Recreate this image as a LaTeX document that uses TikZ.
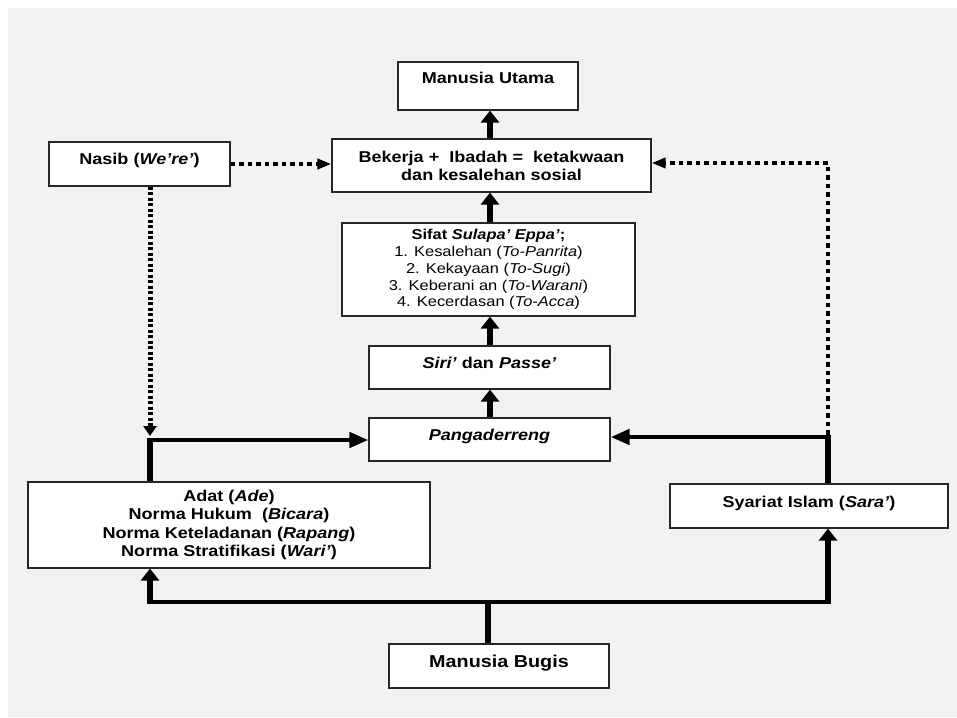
\documentclass[tikz,border=0pt]{standalone}
\usepackage{fontspec}
\setmainfont[FakeStretch=1.15]{Liberation Sans}
\usetikzlibrary{arrows.meta}
\definecolor{bg}{HTML}{F2F2F2}
\begin{document}
\begin{tikzpicture}[x=1pt,y=-1pt,
  box/.style={draw=black!85, line width=1.2pt, fill=white, inner sep=0pt, align=center},
  fbig/.style={font=\fontsize{15.7}{18}\selectfont\bfseries},
  one/.style={text height=11.5pt, text depth=#1},
  vthick/.style={line width=6pt},
  hthick/.style={line width=4.5pt},
  vtip/.style={-{Triangle[width=18pt,length=12pt]}},
  htip/.style={-{Triangle[width=15pt,length=19pt]}},
  vdot/.style={line width=5pt, dash pattern=on 3pt off 2.5pt},
  hdot/.style={line width=4pt, dash pattern=on 4.5pt off 4pt},
  dtipv/.style={-{Triangle[width=13pt,length=10pt]}},
  dtiph/.style={-{Triangle[width=10pt,length=14pt]}}]
\useasboundingbox (0,0) rectangle (957,717);
\fill[bg] (8,8) rectangle (957,717);

\node[box, fbig, one=16.3pt, minimum width=180pt, minimum height=48pt] (mu) at (488,86) {Manusia Utama};
\node[box, fbig, minimum width=319pt, minimum height=53pt] (bek) at (491.5,165.5) {Bekerja +~ Ibadah =~ ketakwaan\\dan kesalehan sosial};
\node[box, font=\fontsize{14.3}{16.8}\selectfont, minimum width=293pt, minimum height=93pt] (sifat) at (488.5,269.5)
  {\textbf{Sifat \textit{Sulapa' Eppa'};}\\1. Kesalehan (\textit{To-Panrita})\\2. Kekayaan (\textit{To-Sugi})\\3. Keberani an (\textit{To-Warani})\\4. Kecerdasan (\textit{To-Acca})};
\node[box, fbig, one=10.3pt, minimum width=241pt, minimum height=43pt] (siri) at (489.5,367.5) {\textit{Siri'} dan \textit{Passe'}};
\node[box, fbig, one=9.9pt, minimum width=241pt, minimum height=43pt] (pang) at (489.5,439.5) {\textit{Pangaderreng}};
\node[box, fbig, one=9.9pt, minimum width=181pt, minimum height=44pt] (nasib) at (139.5,164) {Nasib (\textit{We're'})};
\node[box, font=\fontsize{15.7}{18.3}\selectfont\bfseries, minimum width=402pt, minimum height=86pt] (adat) at (229,525)
  {Adat (\textit{Ade})\\Norma Hukum~ (\textit{Bicara})\\Norma Keteladanan (\textit{Rapang})\\Norma Stratifikasi (\textit{Wari'})};
\node[box, fbig, one=8.9pt, minimum width=278pt, minimum height=44pt] (sya) at (809,506) {Syariat Islam (\textit{Sara'})};
\node[box, font=\fontsize{17.2}{19}\selectfont\bfseries, text height=12.5pt, text depth=8.8pt, minimum width=220pt, minimum height=44pt] (bugis) at (499,666) {Manusia Bugis};

\coordinate (cx) at (490,0);
\coordinate (jl) at (150,440);
\coordinate (jr) at (828,437);
\coordinate (dr) at (828,163);
\coordinate (bl) at (150,602);
\coordinate (br) at (828,602);
\coordinate (bm) at (488,602);

\draw[vthick,vtip] (bek.north -| cx) -- (mu.south -| cx);
\draw[vthick,vtip] (sifat.north -| cx) -- (bek.south -| cx);
\draw[vthick,vtip] (siri.north -| cx) -- (sifat.south -| cx);
\draw[vthick,vtip] (pang.north -| cx) -- (siri.south -| cx);

\draw[vthick] (adat.north -| jl) -- ([yshift=2.25pt]jl);
\draw[hthick,htip] ([xshift=-3pt]jl) -- (pang.west |- jl);
\draw[vdot,dtipv] (nasib.south -| jl) -- ([yshift=4pt]jl);
\draw[hdot,dtiph] (nasib.east) -- (nasib.east -| bek.west);

\draw[vthick] (sya.north -| jr) -- ([yshift=2.25pt]jr);
\draw[hthick,htip] ([xshift=3pt]jr) -- (pang.east |- jr);
\draw[hdot,dtiph] ([yshift=2.25pt]jr) -- (dr) -- (bek.east |- dr);

\draw[vthick] (bugis.north -| bm) -- ([yshift=2.25pt]bm);
\draw[hthick] ([xshift=-3pt]bl) -- ([xshift=3pt]br);
\draw[vthick,vtip] ([yshift=-2.25pt]bl) -- (adat.south -| bl);
\draw[vthick,vtip] ([yshift=-2.25pt]br) -- (sya.south -| br);
\end{tikzpicture}
\end{document}
